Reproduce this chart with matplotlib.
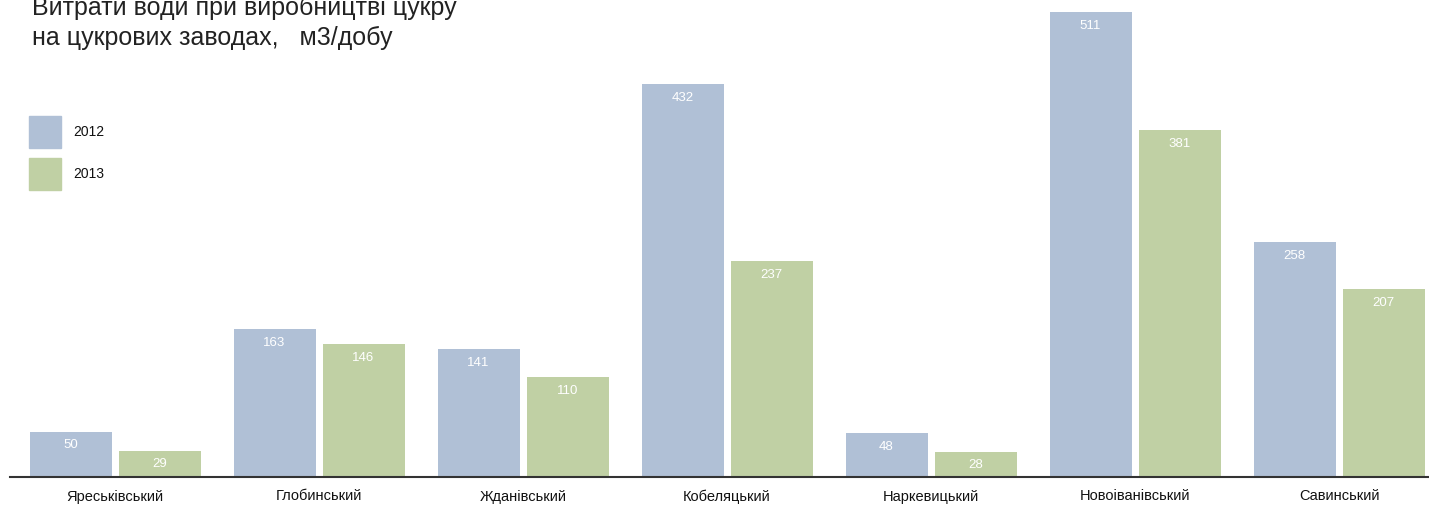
import matplotlib
matplotlib.use("Agg")
import matplotlib.pyplot as plt
import numpy as np

plt.rcParams['font.family'] = ['Liberation Sans', 'DejaVu Sans']

categories = ["Яреськівський", "Глобинський", "Жданівський", "Кобеляцький",
              "Наркевицький", "Новоіванівський", "Савинський"]
values_2012 = [50, 163, 141, 432, 48, 511, 258]
values_2013 = [29, 146, 110, 237, 28, 381, 207]
series_labels = ["2012", "2013"]
colors = ["#B0C0D6", "#C0D0A4"]
title = "Витрати води при виробництві цукру\nна цукрових заводах,   м3/добу"

W, H = 1429, 508
fig = plt.figure(figsize=(W / 100, H / 100), dpi=100)
base_px = 477
ax = fig.add_axes([0, (H - base_px) / H, 1, base_px / H])

x = np.arange(len(categories))
period = 204.0
bw = 82 / period
off = 44.5 / period
ax.set_xlim((0 - 115) / period, (W - 115) / period)
ax.set_ylim(0, base_px / (465 / 511))

for vals, col, d in [(values_2012, colors[0], -off), (values_2013, colors[1], off)]:
    bars = ax.bar(x + d, vals, width=bw, color=col, zorder=2)
    for b, v in zip(bars, vals):
        ax.annotate(str(v), (b.get_x() + b.get_width() / 2, v), xytext=(0, -10),
                    textcoords='offset points', ha='center', va='center',
                    color='white', fontsize=9.5, zorder=3)

for s in ['top', 'right', 'left']:
    ax.spines[s].set_visible(False)
ax.spines['bottom'].set_color('#333333')
ax.spines['bottom'].set_linewidth(1.5)
ax.spines['bottom'].set_bounds((10 - 115) / period, (W - 115) / period)
ax.spines['bottom'].set_zorder(4)
ax.set_yticks([])
ax.set_xticks(x)
ax.set_xticklabels(categories, fontsize=10.5, color='#111111')
ax.tick_params(axis='x', length=0, pad=9)

fig.text(32 / W, 1 - 45 / H, title, fontsize=18, color='#222222',
         ha='left', va='baseline', linespacing=1.3)

# legend
for i, (lab, col) in enumerate(zip(series_labels, colors)):
    y0 = [116, 158][i]
    fig.patches.append(plt.Rectangle((29 / W, 1 - (y0 + 32) / H), 32 / W, 32 / H,
                                     transform=fig.transFigure, color=col))
    fig.text(73 / W, 1 - (y0 + 16) / H, lab, fontsize=10, color='#111111',
             ha='left', va='center')

fig.savefig("out.png", dpi=100)
